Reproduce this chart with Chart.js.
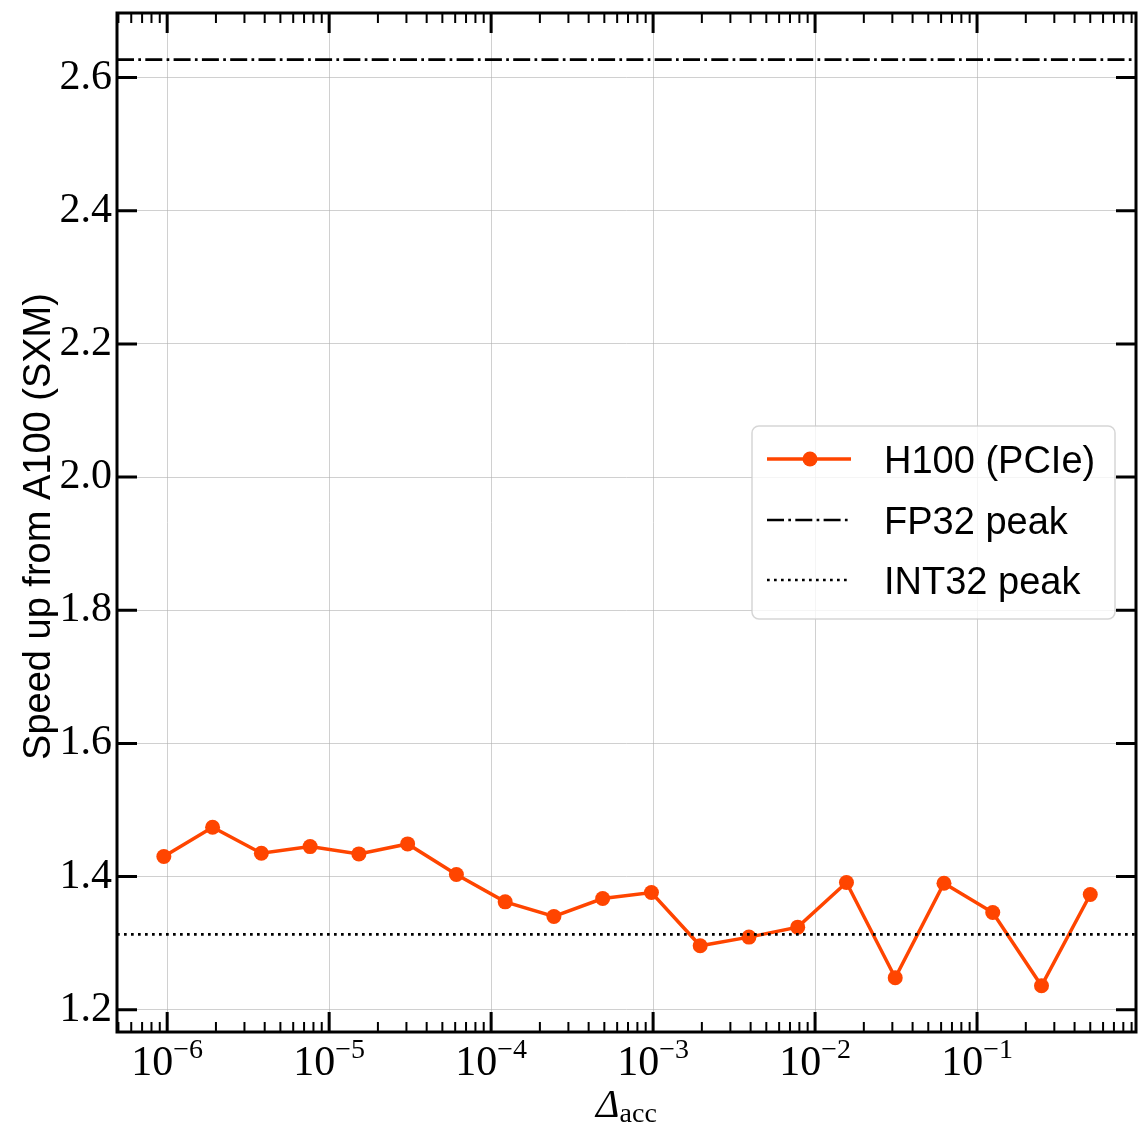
<!DOCTYPE html>
<html>
<head>
<meta charset="utf-8">
<script src="https://cdn.jsdelivr.net/npm/chart.js@4.4.0/dist/chart.umd.min.js"></script>
<style>
  html, body { margin: 0; padding: 0; background: #fff; }
  #wrap { width: 1138px; height: 1131px; }
</style>
</head>
<body>
<div id="wrap"><canvas id="chart" width="1138" height="1131"></canvas></div>
<script>
// Data
const accuracy = [
  9.537e-7, 1.907e-6, 3.815e-6, 7.629e-6, 1.526e-5, 3.052e-5, 6.104e-5,
  1.221e-4, 2.441e-4, 4.883e-4, 9.766e-4, 1.953e-3, 3.906e-3, 7.8125e-3,
  0.015625, 0.03125, 0.0625, 0.125, 0.25, 0.5,
];
const h100Speedup = [
  1.430, 1.474, 1.435, 1.445, 1.434, 1.449, 1.403, 1.362, 1.340, 1.367,
  1.376, 1.296, 1.309, 1.324, 1.391, 1.248, 1.390, 1.346, 1.236, 1.373,
];
const fp32Peak = 2.627;
const int32Peak = 1.313;

const xDecades = [-6, -5, -4, -3, -2, -1];
const yTicks = [1.2, 1.4, 1.6, 1.8, 2.0, 2.2, 2.4, 2.6];
const xMin = 4.9e-7;
const xMax = 0.958;
const yMin = 1.1665;
const yMax = 2.697;

const ORANGE = "#ff4500";
const SERIF = "'Liberation Serif', 'DejaVu Serif', serif";
const SANS = "'Liberation Sans', Arial, sans-serif";
const dashDot = [17, 4.3, 2.7, 4.3];
const dotted = [2.7, 4.3];

// Ticks, frame, axis titles and legend
const decorations = {
  id: "decorations",
  afterDraw(chart) {
    const { ctx, chartArea: a, scales } = chart;
    const x = scales.x;
    const y = scales.y;
    ctx.save();
    ctx.strokeStyle = "#000";
    ctx.fillStyle = "#000";

    // x ticks (log, inward, top and bottom)
    for (let d = -7; d <= 0; d++) {
      for (let k = 1; k <= 9; k++) {
        const v = k * Math.pow(10, d);
        if (v < xMin || v > xMax) continue;
        const px = x.getPixelForValue(v);
        const len = k === 1 ? 20 : 10;
        ctx.lineWidth = k === 1 ? 3 : 2;
        ctx.beginPath();
        ctx.moveTo(px, a.bottom);
        ctx.lineTo(px, a.bottom - len);
        ctx.moveTo(px, a.top);
        ctx.lineTo(px, a.top + len);
        ctx.stroke();
      }
    }

    // y ticks (inward, left and right)
    ctx.lineWidth = 3;
    yTicks.forEach((v) => {
      const py = y.getPixelForValue(v);
      ctx.beginPath();
      ctx.moveTo(a.left, py);
      ctx.lineTo(a.left + 20, py);
      ctx.moveTo(a.right, py);
      ctx.lineTo(a.right - 20, py);
      ctx.stroke();
    });

    // frame
    ctx.lineWidth = 3;
    ctx.strokeRect(a.left, a.top, a.right - a.left, a.bottom - a.top);

    // x tick labels 10^n
    ctx.textBaseline = "alphabetic";
    ctx.textAlign = "left";
    xDecades.forEach((d) => {
      const px = x.getPixelForValue(Math.pow(10, d));
      const base = "10";
      const sup = "\u2212" + Math.abs(d);
      ctx.font = "42px " + SERIF;
      const wb = ctx.measureText(base).width;
      ctx.font = "28px " + SERIF;
      const ws = ctx.measureText(sup).width;
      const x0 = px - (wb + ws) / 2;
      ctx.font = "42px " + SERIF;
      ctx.fillText(base, x0, 1075);
      ctx.font = "28px " + SERIF;
      ctx.fillText(sup, x0 + wb, 1058);
    });

    // x axis title: Delta_acc
    ctx.font = "italic 40px " + SERIF;
    const wd = ctx.measureText("\u0394").width;
    ctx.font = "28px " + SERIF;
    const wa = ctx.measureText("acc").width;
    const cx = (a.left + a.right) / 2;
    const tx = cx - (wd + wa) / 2;
    ctx.font = "italic 40px " + SERIF;
    ctx.fillText("\u0394", tx, 1117);
    ctx.font = "28px " + SERIF;
    ctx.fillText("acc", tx + wd, 1122);

    // y axis title
    ctx.save();
    ctx.translate(50, (a.top + a.bottom) / 2 + 4);
    ctx.rotate(-Math.PI / 2);
    ctx.textAlign = "center";
    ctx.font = "38px " + SANS;
    ctx.fillText("Speed up from A100 (SXM)", 0, 0);
    ctx.restore();

    // legend
    const lx = 752, ly = 426, lw = 363, lh = 193, r = 7;
    ctx.beginPath();
    ctx.moveTo(lx + r, ly);
    ctx.arcTo(lx + lw, ly, lx + lw, ly + lh, r);
    ctx.arcTo(lx + lw, ly + lh, lx, ly + lh, r);
    ctx.arcTo(lx, ly + lh, lx, ly, r);
    ctx.arcTo(lx, ly, lx + lw, ly, r);
    ctx.closePath();
    ctx.fillStyle = "rgba(255,255,255,0.8)";
    ctx.fill();
    ctx.lineWidth = 1.5;
    ctx.strokeStyle = "rgba(204,204,204,0.8)";
    ctx.stroke();

    const rows = [
      { ds: chart.data.datasets[0], y: 459, marker: true },
      { ds: chart.data.datasets[1], y: 520, marker: false },
      { ds: chart.data.datasets[2], y: 580, marker: false },
    ];
    rows.forEach((row) => {
      ctx.save();
      ctx.strokeStyle = row.ds.borderColor;
      ctx.lineWidth = row.ds.borderWidth;
      ctx.setLineDash(row.ds.borderDash || []);
      ctx.beginPath();
      ctx.moveTo(767, row.y);
      ctx.lineTo(851, row.y);
      ctx.stroke();
      ctx.restore();
      if (row.marker) {
        ctx.beginPath();
        ctx.arc(810, row.y, row.ds.pointRadius, 0, Math.PI * 2);
        ctx.fillStyle = row.ds.pointBackgroundColor;
        ctx.fill();
      }
      ctx.fillStyle = "#000";
      ctx.textAlign = "left";
      ctx.textBaseline = "alphabetic";
      ctx.font = "38px " + SANS;
      ctx.fillText(row.ds.label, 884, row.y + 14);
    });

    ctx.restore();
  },
};

const ctx = document.getElementById("chart").getContext("2d");
new Chart(ctx, {
  type: "line",
  data: {
    datasets: [
      {
        label: "H100 (PCIe)",
        data: accuracy.map((v, i) => ({ x: v, y: h100Speedup[i] })),
        borderColor: ORANGE,
        backgroundColor: ORANGE,
        borderWidth: 3.5,
        pointRadius: 7.5,
        pointBackgroundColor: ORANGE,
        pointBorderWidth: 0,
        tension: 0,
        order: 2,
      },
      {
        label: "FP32 peak",
        data: [{ x: xMin, y: fp32Peak }, { x: xMax, y: fp32Peak }],
        borderColor: "#000",
        borderWidth: 2.7,
        borderDash: dashDot,
        borderCapStyle: "butt",
        pointRadius: 0,
        order: 1,
      },
      {
        label: "INT32 peak",
        data: [{ x: xMin, y: int32Peak }, { x: xMax, y: int32Peak }],
        borderColor: "#000",
        borderWidth: 2.7,
        borderDash: dotted,
        borderCapStyle: "butt",
        pointRadius: 0,
        order: 0,
      },
    ],
  },
  options: {
    responsive: false,
    animation: false,
    devicePixelRatio: 1,
    layout: { autoPadding: false, padding: { top: 13, right: 2, left: 0, bottom: 0 } },
    plugins: {
      legend: { display: false },
      tooltip: { enabled: false },
    },
    scales: {
      x: {
        type: "logarithmic",
        min: xMin,
        max: xMax,
        afterBuildTicks: (scale) => {
          scale.ticks = xDecades.map((d) => ({ value: Math.pow(10, d) }));
        },
        afterFit: (scale) => {
          scale.height = 99;
          scale.paddingLeft = 0;
          scale.paddingRight = 0;
        },
        ticks: { display: false, autoSkip: false },
        grid: { color: "rgba(176,176,176,0.6)", lineWidth: 1, drawTicks: false },
        border: { display: false },
      },
      y: {
        type: "linear",
        min: yMin,
        max: yMax,
        afterBuildTicks: (scale) => {
          scale.ticks = yTicks.map((v) => ({ value: v }));
        },
        afterFit: (scale) => {
          scale.width = 117;
          scale.paddingTop = 0;
          scale.paddingBottom = 0;
        },
        ticks: {
          autoSkip: false,
          padding: 5,
          color: "#000",
          font: { family: SERIF, size: 42 },
          callback: (v) => v.toFixed(1),
        },
        grid: { color: "rgba(176,176,176,0.6)", lineWidth: 1, drawTicks: false },
        border: { display: false },
      },
    },
  },
  plugins: [decorations],
});
</script>
</body>
</html>
